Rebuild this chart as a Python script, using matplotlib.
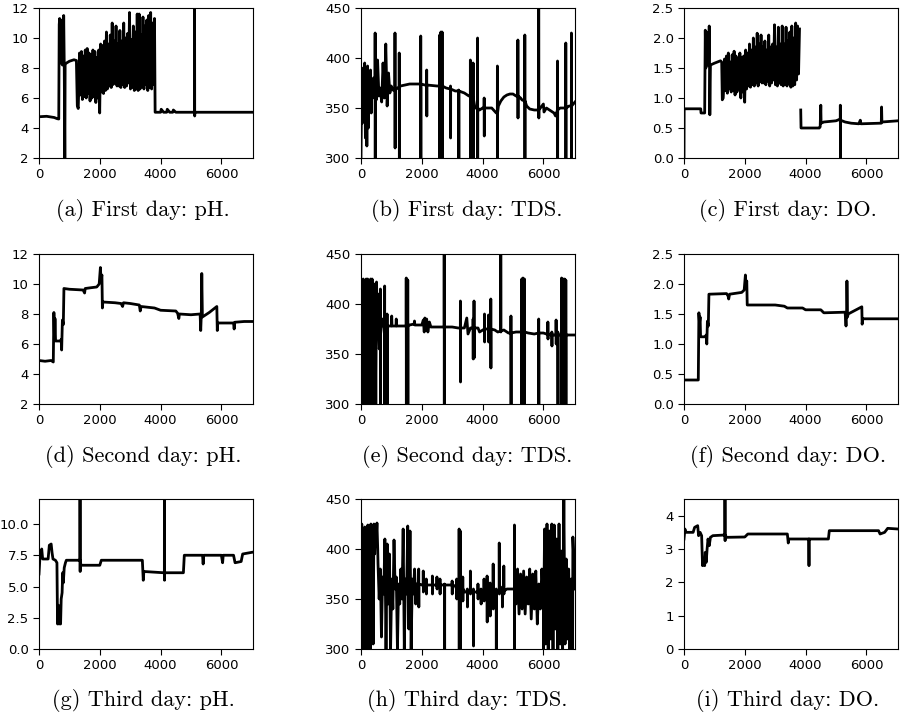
import numpy as np
import matplotlib
matplotlib.use('Agg')
import matplotlib.pyplot as plt

# 三天 x 三个指标 (pH, TDS, DO) 的传感器读数
# 每个面板: 关键点 (t, v)、尖峰 (t, 基线, 顶, 底)、密集振荡段 (t0, t1, 数值)

# ---- (a) First day: pH ----
ph1_t = [0, 250, 500, 600, 650, 665, 680, 700, 720, 745, 770, 800, 812, 830, 850, 860, 880,
         1000, 1150, 1230, 1260, 1290,
         3820, 4000, 4020, 4100, 4200, 4220, 4300, 4400, 4420, 4500, 5100, 5140, 7040]
ph1_v = [4.75, 4.78, 4.7, 4.62, 4.6, 10.9, 11.3, 8.5, 11.2, 8.3, 8.2, 8.2, 11.5, 8.3, 1.5, 8.2, 8.3,
         8.45, 8.55, 8.5, 5.5, 5.3,
         5.05, 5.05, 5.25, 5.05, 5.05, 5.25, 5.05, 5.05, 5.2, 5.05, 5.05, 5.05, 5.05]
ph1_spikes = [(5120, 5.05, 13.0, 4.8)]
ph1_bursts = [(1300, 3800, [
    6.0, 9.0, 6.2, 9.1, 5.9, 8.8, 6.1, 9.2, 6.0, 9.3, 6.3, 9.0, 5.8, 8.9, 6.0, 9.2,
    6.1, 9.1, 5.7, 8.7, 6.0, 9.2, 5.0, 9.6,
    6.4, 9.5, 6.3, 9.8, 6.5, 10.4, 6.6, 9.6, 6.8, 10.2, 6.7, 11.0, 6.9, 9.8, 7.0, 10.8, 6.8, 9.6,
    6.8, 10.5, 6.7, 9.8, 6.9, 11.0, 6.7, 10.0, 6.8, 10.3, 7.0, 11.7, 6.6, 9.9, 6.7, 10.8,
    6.5, 10.4, 6.6, 11.6,
    6.5, 11.6, 6.6, 10.2, 6.8, 11.4, 6.6, 10.8, 6.9, 11.2, 6.5, 11.5, 6.7, 11.7, 6.6, 11.0,
    6.9, 11.3])]

# ---- (b) First day: TDS ----
tds1_t = [420, 1060, 1200, 1300, 1600, 1900, 2100, 2500, 2800, 3100, 3400, 3550, 3750, 3900,
          4000, 4300, 4450, 4520, 4600, 4700, 4800, 4900, 5000, 5100, 5250, 5300, 5450, 5550,
          5700, 5900, 6000, 6020, 6100, 6250, 6350, 6400, 6550, 6850, 7040]
tds1_v = [368, 368, 370, 372, 374, 374, 373, 372, 370, 367, 365, 362, 350, 348,
          350, 350, 345, 352, 357, 361, 363, 364, 364, 362, 360, 358, 352, 349,
          348, 350, 354, 346, 350, 347, 345, 342, 350, 352, 356]
tds1_spikes = [(467, 368, 425, 300), (1120, 368, 425, 310), (1260, 371, 405, 300),
               (1967, 374, 422, 300), (2163, 373, 388, 342), (2590, 372, 423, 300),
               (2630, 372, 426, 300), (2670, 372, 426, 300), (2946, 369, 372, 320),
               (3217, 367, 368, 300), (3600, 362, 398, 300), (3640, 362, 390, 300),
               (3690, 360, 395, 300), (3837, 350, 420, 300), (4054, 350, 360, 322),
               (4489, 345, 392, 300), (5163, 362, 418, 340), (5391, 357, 423, 300),
               (5848, 348, 455, 340), (6467, 348, 397, 300), (6739, 350, 415, 300),
               (6924, 352, 425, 300)]
tds1_bursts = [(0, 410, [300, 380, 335, 390, 345, 395, 320, 385, 312, 392, 330, 380,
                         350, 388, 345, 375, 360, 380]),
               (500, 1040, [358, 398, 362, 370, 356, 395, 360, 414, 352, 385, 365, 372, 368])]

# ---- (c) First day: DO ----
do1_t = [0, 5, 550, 560, 680, 700, 720, 740, 770, 810, 830, 850, 870, 1000, 1200, 1240, 1260, 1290,
         3810, 3840, 3850, 4450, 4480, 4500, 4510, 4600, 5000, 5100, 5300, 5500, 5750, 5800,
         5820, 6450, 6490, 6500, 6510, 7040]
do1_v = [0.0, 0.82, 0.82, 0.75, 0.75, 2.13, 1.5, 2.1, 1.55, 1.55, 2.2, 0.72, 1.55, 1.58, 1.62, 1.6,
         0.97, 1.0,
         np.nan, 0.8, 0.5, 0.5, 0.52, 0.88, 0.58, 0.6, 0.62, 0.64, 0.6, 0.58, 0.57, 0.63,
         0.57, 0.58, 0.58, 0.85, 0.6, 0.62]
do1_spikes = [(5145, 0.63, 0.88, -0.1)]
do1_bursts = [(1300, 3800, [
    1.1, 1.65, 1.12, 1.7, 1.08, 1.75, 1.15, 1.6, 1.1, 1.72, 1.12, 1.78, 1.05, 1.7, 1.1, 1.65,
    1.15, 1.75, 1.0, 1.68, 1.1, 1.7, 0.93, 1.8,
    1.15, 1.75, 1.2, 1.9, 1.18, 1.8, 1.22, 2.0, 1.2, 1.85, 1.25, 2.08, 1.2, 1.9, 1.28, 2.05,
    1.25, 1.85,
    1.25, 1.95, 1.22, 1.8, 1.28, 2.05, 1.2, 1.85, 1.25, 1.9, 1.3, 2.22, 1.22, 1.85, 1.2, 2.18,
    1.25, 1.9, 1.22, 2.2,
    1.2, 1.9, 1.22, 2.18, 1.2, 1.95, 1.25, 2.1, 1.18, 2.2, 1.2, 2.0, 1.22, 2.25, 1.3, 2.2,
    1.4, 2.15])]

# ---- (d) Second day: pH ----
ph2_t = [0, 200, 400, 470, 490, 510, 525, 545, 700, 730, 745, 770, 800, 820, 1000, 1450, 1500,
         1520, 1700, 1900, 1980, 2020, 2040, 2070, 2085, 2100, 2500, 2700, 2750, 2780, 3000,
         3300, 3330, 3360, 3800, 4000, 4500, 4560, 4600, 4620, 5000, 5300, 5320, 5340, 5355,
         5375, 5600, 5850, 5865, 5880, 6400, 6420, 6440, 6750, 7040]
ph2_v = [4.9, 4.85, 4.9, 4.8, 8.1, 6.3, 7.7, 6.2, 6.2, 6.3, 5.6, 7.6, 7.3, 9.7, 9.65, 9.6, 9.4,
         9.7, 9.75, 9.8, 10.0, 11.1, 10.3, 10.6, 8.4, 8.8, 8.75, 8.7, 8.5, 8.75, 8.7,
         8.6, 8.2, 8.5, 8.4, 8.25, 8.2, 8.05, 7.7, 8.0, 7.95, 8.0, 6.9, 8.0, 10.7,
         7.8, 8.1, 8.5, 6.9, 7.4, 7.4, 7.0, 7.45, 7.5, 7.5]

# ---- (e) Second day: TDS ----
tds2_t = [580, 600, 700, 820, 900, 1000, 1010, 1020, 1150, 1160, 1170, 1480, 1600, 1750, 1760,
          1770, 2000, 2050, 2080, 2100, 2130, 2160, 2200, 2250, 2300, 2700, 2800, 3000, 3200,
          3400, 3480, 3520, 3600, 3850, 3900, 4400, 4500, 4700, 4850, 5100, 5500, 5700, 6000,
          6100, 6800, 7040]
tds2_v = [375, 355, 385, 360, 378, 378, 388, 378, 378, 385, 378, 378, 379, 380, 383,
          379, 379, 384, 372, 386, 374, 385, 372, 382, 377, 377, 377, 377, 376,
          376, 386, 370, 376, 376, 372, 374, 372, 374, 371, 372, 371, 370, 371,
          370, 369, 369]
tds2_spikes = [(640, 370, 415, 300), (780, 375, 418, 300), (860, 378, 390, 300),
               (1490, 378, 426, 300), (1510, 378, 425, 300), (1540, 378, 424, 300),
               (2739, 377, 455, 300), (3272, 376, 403, 322), (3690, 376, 385, 345),
               (3720, 376, 403, 346), (4065, 375, 390, 362), (4196, 375, 389, 362),
               (4272, 375, 405, 336), (4600, 373, 455, 372), (4935, 371, 388, 300),
               (5290, 372, 425, 300), (5330, 372, 426, 300), (5380, 372, 425, 300),
               (5848, 371, 385, 300), (6150, 370, 382, 365), (6280, 369, 372, 358),
               (6420, 369, 384, 360), (6478, 369, 372, 300), (6600, 369, 426, 300),
               (6650, 369, 425, 300), (6700, 369, 425, 300), (6740, 369, 424, 300)]
tds2_bursts = [(0, 560, [300, 405, 300, 425, 305, 410, 300, 425, 300, 425, 310, 420, 300, 425,
                         380, 425, 300, 420, 385, 420, 300, 422, 375, 410])]

# ---- (f) Second day: DO ----
do2_t = [0, 470, 490, 510, 530, 545, 700, 730, 750, 770, 800, 820, 1400, 1450, 1470, 1500, 1900,
         1980, 2020, 2040, 2065, 2080, 3000, 3300, 3400, 3900, 4000, 4500, 4600, 5300, 5330,
         5350, 5360, 5380, 5400, 5850, 5860, 5880, 7040]
do2_v = [0.4, 0.4, 1.52, 1.35, 1.45, 1.12, 1.12, 1.15, 1.0, 1.38, 1.3, 1.83, 1.84, 1.8, 1.75, 1.83,
         1.86, 1.9, 2.15, 1.98, 2.05, 1.65, 1.65, 1.63, 1.6, 1.6, 1.57, 1.57, 1.52, 1.53, 1.3,
         1.55, 2.05, 1.45, 1.5, 1.62, 1.33, 1.42, 1.42]

# ---- (g) Third day: pH ----
ph3_t = [0, 30, 60, 90, 120, 300, 340, 400, 430, 460, 540, 590, 610, 640, 660, 690, 710, 730, 760,
         780, 800, 830, 870, 900, 1340, 1380, 2000, 2050, 3400, 3430, 3450, 4100, 4140, 4750,
         4780, 5380, 5400, 5420, 6000, 6040, 6060, 6400, 6450, 6650, 6700, 7040]
ph3_v = [6.0, 7.3, 7.8, 8.0, 7.2, 7.2, 8.3, 8.4, 7.7, 7.2, 7.1, 6.9, 2.0, 3.5, 2.0, 3.2, 2.0, 4.0,
         4.5, 6.1, 5.3, 6.5, 6.9, 7.1, 7.1, 6.7, 6.7, 7.1, 7.1, 5.5, 6.2, 6.1, 6.1, 6.1,
         7.5, 7.5, 6.8, 7.5, 7.5, 6.9, 7.5, 7.5, 6.9, 7.0, 7.6, 7.75]
ph3_spikes = [(1352, 7.1, 13.0, 6.2), (4128, 6.1, 13.0, 5.5)]

# ---- (h) Third day: TDS ----
tds3_t = [1820, 2000, 3100, 3420, 4800, 4900, 6960, 6970, 7040]
tds3_v = [365, 364, 363, 357, 360, 360, 300, 412, 360]
tds3_spikes = [(1900, 365, 380, 342), (2050, 364, 378, 357), (2150, 364, 370, 355),
               (2350, 364, 373, 355), (2500, 364, 372, 360), (2600, 364, 370, 355),
               (2750, 364, 365, 300), (3000, 364, 368, 355), (3150, 360, 370, 350),
               (3230, 360, 420, 300), (3270, 360, 418, 300), (3350, 360, 372, 348),
               (3500, 357, 360, 342), (3600, 357, 378, 355), (3700, 357, 360, 303),
               (3850, 357, 365, 350), (3950, 357, 360, 345), (4050, 357, 370, 348),
               (4150, 357, 373, 327), (4250, 357, 366, 333), (4350, 357, 385, 340),
               (4450, 357, 360, 300), (4550, 358, 406, 355), (4650, 358, 362, 342),
               (4700, 358, 383, 355), (5050, 360, 424, 300)]
tds3_bursts = [(0, 550, [300, 425, 320, 415, 300, 422, 300, 420, 300, 424, 310, 418, 300, 425,
                         400, 420, 305, 425, 395, 418, 410, 426, 400]),
               (560, 1800, [385, 350, 380, 312, 372, 355, 410, 300, 405, 345, 395, 300, 370, 340,
                            409, 360, 372, 300, 365, 345, 380, 350, 420, 300, 370, 355, 423, 320,
                            418, 300, 370, 355, 380, 345]),
               (5100, 6000, [345, 380, 335, 375, 340, 378, 335, 372, 345, 380, 330, 375, 340, 378,
                             325, 365, 340, 380, 350]),
               (6000, 6950, [300, 420, 305, 425, 300, 418, 310, 425, 300, 424, 320, 410, 300, 425,
                             305, 398, 300, 450, 305, 390, 310, 380, 300, 370, 350])]

# ---- (i) Third day: DO ----
do3_t = [0, 30, 60, 300, 350, 450, 480, 530, 580, 610, 650, 680, 700, 730, 760, 790, 830, 870, 950,
         1340, 1400, 2000, 2100, 3400, 3430, 3450, 4100, 4120, 4750, 4780, 6400, 6450, 6600,
         6700, 7040]
do3_v = [3.3, 3.6, 3.5, 3.5, 3.65, 3.7, 3.4, 3.5, 3.4, 2.5, 2.7, 2.5, 2.9, 2.6, 3.0, 3.3, 3.1, 3.35,
         3.4, 3.42, 3.35, 3.36, 3.45, 3.45, 3.18, 3.3, 3.3, 3.3, 3.3, 3.55, 3.55, 3.45, 3.5,
         3.62, 3.6]
do3_spikes = [(1350, 3.42, 4.6, 3.25), (4110, 3.3, 3.3, 2.5)]

captions = ['(a) First day: pH.', '(b) First day: TDS.', '(c) First day: DO.',
            '(d) Second day: pH.', '(e) Second day: TDS.', '(f) Second day: DO.',
            '(g) Third day: pH.', '(h) Third day: TDS.', '(i) Third day: DO.']

panels = [
    (ph1_t, ph1_v, ph1_spikes, ph1_bursts, (2, 12), [2, 4, 6, 8, 10, 12], '{:.0f}'),
    (tds1_t, tds1_v, tds1_spikes, tds1_bursts, (300, 450), [300, 350, 400, 450], '{:.0f}'),
    (do1_t, do1_v, do1_spikes, do1_bursts, (0, 2.5), [0, 0.5, 1.0, 1.5, 2.0, 2.5], '{:.1f}'),
    (ph2_t, ph2_v, [], [], (2, 12), [2, 4, 6, 8, 10, 12], '{:.0f}'),
    (tds2_t, tds2_v, tds2_spikes, tds2_bursts, (300, 450), [300, 350, 400, 450], '{:.0f}'),
    (do2_t, do2_v, [], [], (0, 2.5), [0, 0.5, 1.0, 1.5, 2.0, 2.5], '{:.1f}'),
    (ph3_t, ph3_v, ph3_spikes, [], (0, 12), [0, 2.5, 5.0, 7.5, 10.0], '{:.1f}'),
    (tds3_t, tds3_v, tds3_spikes, tds3_bursts, (300, 450), [300, 350, 400, 450], '{:.0f}'),
    (do3_t, do3_v, do3_spikes, [], (0, 4.5), [0, 1, 2, 3, 4], '{:.0f}'),
]


def build_series(key_t, key_v, spikes, bursts):
    t = list(key_t)
    v = list(key_v)
    for (ts, base, top, bot) in spikes:
        t += [ts - 4, ts - 2, ts + 2, ts + 4]
        v += [base, top, bot, base]
    for (t0, t1, vals) in bursts:
        t += list(np.linspace(t0, t1, len(vals)))
        v += list(vals)
    t = np.array(t, dtype=float)
    v = np.array(v, dtype=float)
    order = np.argsort(t, kind='stable')
    return t[order], v[order]


W, H = 900, 719
fig = plt.figure(figsize=(W / 100, H / 100), dpi=100)

col_left = [39, 361, 684]
row_top = [8, 254, 499]
ax_w, ax_h = 214, 150
cap_x = [143, 467, 788]
cap_y = [210, 457, 700]

for k, (kt, kv, sp, bu, ylim, yticks, fmt) in enumerate(panels):
    r, c = divmod(k, 3)
    ax = fig.add_axes([col_left[c] / W, 1 - (row_top[r] + ax_h) / H, ax_w / W, ax_h / H])
    t, v = build_series(kt, kv, sp, bu)
    ax.plot(t, v, color='black', linewidth=2.0)
    ax.set_xlim(0, 7040)
    ax.set_ylim(*ylim)
    ax.set_xticks([0, 2000, 4000, 6000])
    ax.set_yticks(yticks)
    ax.set_yticklabels([fmt.format(y) for y in yticks])
    ax.tick_params(labelsize=9.5, length=4, width=0.8)
    for s in ax.spines.values():
        s.set_linewidth(0.8)
    fig.text(cap_x[c] / W, 1 - cap_y[r] / H, captions[k], ha='center', va='center',
             family='cmr10', fontsize=16)

plt.savefig('out.png', dpi=100)
